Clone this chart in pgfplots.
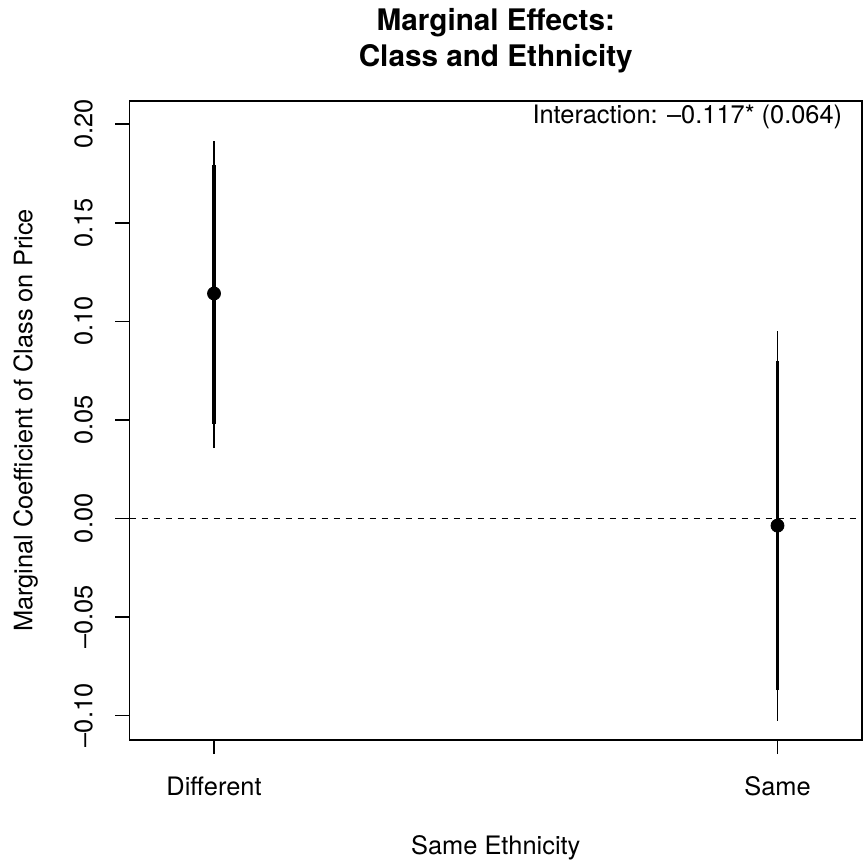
\documentclass[border=0pt]{standalone}
\usepackage{fontspec}
\setmainfont{TeX Gyre Heros}
\usepackage{pgfplots}
\pgfplotsset{compat=1.18}
\begin{document}
\begin{tikzpicture}[font=\fontsize{12.75}{15}\selectfont]
\begin{axis}[
  name=ax,
  scale only axis,
  width=366.25bp, height=319.5bp,
  xmin=-0.15, xmax=1.15,
  ymin=-0.1125, ymax=0.2118,
  axis line style={line width=0.75bp},
  tick style={line width=0.75bp, black},
  tick align=outside,
  major tick length=7bp,
  xtick={0,1},
  xticklabels={Different,Same},
  ytick={-0.1,-0.05,0,0.05,0.1,0.15,0.2},
  yticklabels={\textendash0.10,\textendash0.05,0.00,0.05,0.10,0.15,0.20},
  xtick pos=bottom, ytick pos=left,
  every tick label/.append style={font=\fontsize{12.75}{15}\selectfont, inner sep=0pt},
  xticklabel style={anchor=base},
  xticklabel shift=20.5bp,
  yticklabel style={rotate=90, anchor=base},
  yticklabel shift=11.5bp,
  clip=true,
]
\addplot[black, line width=0.6bp, dash pattern=on 3.4bp off 2.6bp] coordinates {(-0.15,0) (1.15,0)};
\addplot[black, line width=0.6bp] coordinates {(0,0.0356) (0,0.1917)};
\addplot[black, line width=0.6bp] coordinates {(1,-0.1028) (1,0.0952)};
\addplot[black, line width=1.7bp] coordinates {(0,0.0480) (0,0.1793)};
\addplot[black, line width=1.7bp] coordinates {(1,-0.0872) (1,0.0796)};
\addplot[black, only marks, mark=*, mark size=3.25bp, mark options={fill=black, draw=black}] coordinates {(0,0.1141) (1,-0.0037)};
\end{axis}
\node[anchor=base east, inner sep=0pt] at ([shift={(-9.7bp,-11.5bp)}]ax.north east) {Interaction: \textendash0.117* (0.064)};
\node[anchor=base, inner sep=0pt, font=\fontsize{14.9}{17}\selectfont\bfseries] at ([yshift=35.15bp]ax.north) {Marginal Effects:};
\node[anchor=base, inner sep=0pt, font=\fontsize{14.9}{17}\selectfont\bfseries] at ([yshift=17bp]ax.north) {Class and Ethnicity};
\node[anchor=base, inner sep=0pt] at ([yshift=-57.2bp]ax.south) {Same Ethnicity};
\node[anchor=base, inner sep=0pt, rotate=90] at ([xshift=-48.5bp]ax.west) {Marginal Coefficient of Class on Price};
\pgfresetboundingbox
\path ([shift={(-64.75bp,-62.5bp)}]ax.south west) rectangle ([shift={(1bp,50.5bp)}]ax.north east);
\end{tikzpicture}
\end{document}
